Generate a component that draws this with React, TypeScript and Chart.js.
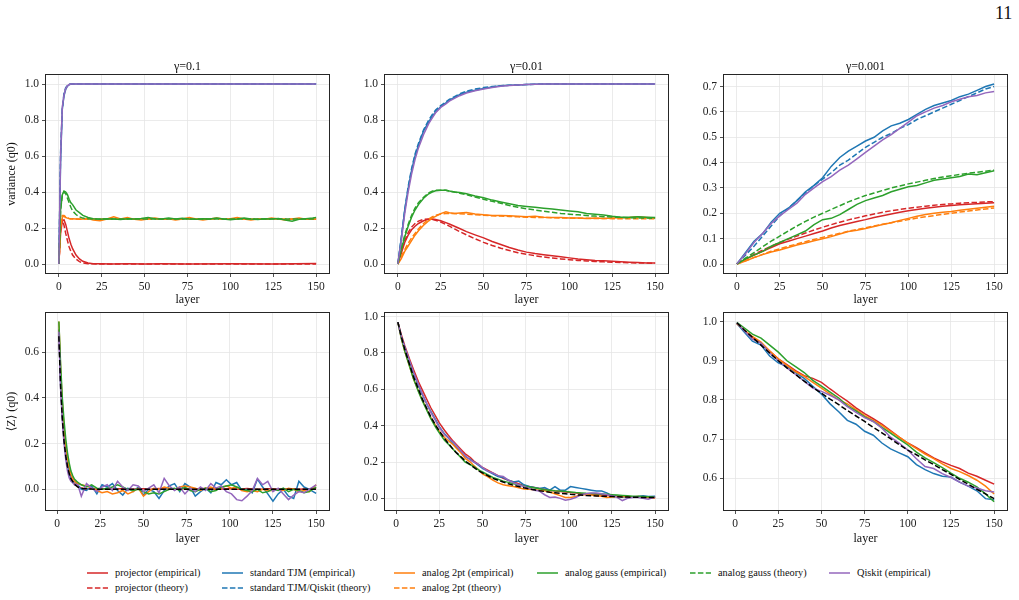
import React, { useEffect, useRef } from "react";
import { Chart, registerables } from "chart.js";
Chart.register(...registerables);

// ---------- colours ----------
const RED = "#d62728";
const BLUE = "#1f77b4";
const ORANGE = "#ff7f0e";
const GREEN = "#2ca02c";
const PURPLE = "#9467bd";
const BLACK = "#000000";
const DASH = [5.5, 2.4];
const FONT = '"Liberation Serif", "Times New Roman", "DejaVu Serif", serif';
Chart.defaults.font.family = FONT;

// ---------- tick labels ----------
const xTicks = [0, 25, 50, 75, 100, 125, 150];
const yTicksVar = [0, 0.2, 0.4, 0.6, 0.8, 1.0];
const yTicksVar001 = [0, 0.1, 0.2, 0.3, 0.4, 0.5, 0.6, 0.7];
const yTicksZ01 = [0, 0.2, 0.4, 0.6];
const yTicksZ001 = [0.6, 0.7, 0.8, 0.9, 1.0];

// ---------- panel titles ----------
const gammaTitles = ["γ=0.1", "γ=0.01", "γ=0.001"];

// ---------- panel 1: variance, γ=0.1 ----------
const X1a = [0, 1, 2, 3, 4, 5, 6, 7, 8, 10, 12, 14, 17, 20, 25, 30, 40, 50, 60, 75, 100, 125, 150];
const X1b = [0, 1, 2, 3, 4, 5, 6, 7, 8, 10, 12, 14, 17, 20, 24, 28, 32, 36, 40, 44, 48, 52, 56, 60, 64, 68, 72, 76, 80, 84, 88, 92, 96, 100, 104, 108, 112, 116, 120, 124, 128, 132, 136, 140, 144, 148, 150];
const p1ProjEmp = [0, 0.17, 0.24, 0.245, 0.22, 0.18, 0.14, 0.11, 0.085, 0.05, 0.028, 0.015, 0.006, 0.002, 0.001, 0, 0.001, 0, 0.001, 0, 0.001, 0, 0.003];
const p1ProjTheory = [0, 0.2, 0.245, 0.215, 0.17, 0.13, 0.095, 0.07, 0.05, 0.027, 0.013, 0.006, 0.002, 0.001, 0, 0, 0, 0, 0, 0, 0, 0, 0];
const p1TjmEmp = [0, 0.57, 0.86, 0.935, 0.97, 0.988, 0.996, 1, 1, 1, 1, 1, 1, 1, 1, 1, 1, 1, 1, 1, 1, 1, 1];
const p1TjmTheory = [0, 0.62, 0.86, 0.95, 0.98, 0.993, 0.998, 1, 1, 1, 1, 1, 1, 1, 1, 1, 1, 1, 1, 1, 1, 1, 1];
const p1TwoPtEmp = [0, 0.2, 0.26, 0.265, 0.258, 0.255, 0.252, 0.25, 0.252, 0.25, 0.248, 0.25, 0.252, 0.245, 0.24, 0.25, 0.262, 0.25, 0.258, 0.248, 0.245, 0.25, 0.255, 0.248, 0.252, 0.245, 0.25, 0.258, 0.25, 0.245, 0.25, 0.255, 0.248, 0.252, 0.258, 0.25, 0.245, 0.25, 0.248, 0.255, 0.25, 0.245, 0.25, 0.255, 0.248, 0.25, 0.248];
const p1TwoPtTheory = [0, 0.22, 0.27, 0.27, 0.262, 0.256, 0.253, 0.251, 0.25, 0.25, 0.25, 0.25, 0.25, 0.25, 0.25, 0.25, 0.25, 0.25, 0.25, 0.25, 0.25, 0.25, 0.25];
const p1GaussEmp = [0, 0.3, 0.385, 0.405, 0.4, 0.385, 0.36, 0.34, 0.33, 0.3, 0.285, 0.27, 0.258, 0.252, 0.248, 0.252, 0.25, 0.247, 0.252, 0.25, 0.253, 0.258, 0.252, 0.25, 0.255, 0.25, 0.254, 0.25, 0.248, 0.252, 0.25, 0.256, 0.25, 0.246, 0.25, 0.255, 0.25, 0.247, 0.252, 0.25, 0.253, 0.245, 0.238, 0.248, 0.252, 0.255, 0.258];
const p1GaussTheory = [0, 0.3, 0.38, 0.4, 0.39, 0.365, 0.34, 0.315, 0.295, 0.275, 0.262, 0.255, 0.251, 0.25, 0.25, 0.25, 0.25, 0.25, 0.25, 0.25, 0.25, 0.25, 0.25];
const p1QiskitEmp = [0, 0.6, 0.87, 0.94, 0.975, 0.99, 0.997, 1, 1, 1, 1, 1, 1, 1, 1, 1, 1, 1, 1, 1, 1, 1, 1];

// ---------- panel 2: variance, γ=0.01 ----------
const X2 = [0, 2, 4, 6, 8, 10, 12, 15, 18, 20, 22, 25, 28, 30, 33, 36, 40, 45, 50, 55, 60, 65, 70, 75, 80, 85, 90, 95, 100, 105, 110, 115, 120, 125, 130, 135, 140, 145, 150];
const p2ProjEmp = [0, 0.06, 0.12, 0.16, 0.19, 0.21, 0.225, 0.24, 0.248, 0.25, 0.247, 0.24, 0.23, 0.222, 0.21, 0.197, 0.18, 0.162, 0.145, 0.125, 0.108, 0.092, 0.078, 0.066, 0.058, 0.052, 0.046, 0.04, 0.034, 0.028, 0.024, 0.02, 0.018, 0.015, 0.012, 0.01, 0.008, 0.006, 0.005];
const p2ProjTheory = [0, 0.07, 0.13, 0.175, 0.205, 0.225, 0.238, 0.248, 0.25, 0.248, 0.243, 0.233, 0.22, 0.21, 0.195, 0.18, 0.162, 0.14, 0.12, 0.103, 0.088, 0.075, 0.063, 0.054, 0.046, 0.039, 0.033, 0.028, 0.024, 0.02, 0.017, 0.014, 0.012, 0.01, 0.008, 0.007, 0.006, 0.005, 0.004];
const p2TjmEmp = [0, 0.14, 0.3, 0.42, 0.52, 0.6, 0.66, 0.74, 0.79, 0.82, 0.845, 0.875, 0.895, 0.91, 0.925, 0.94, 0.955, 0.965, 0.975, 0.983, 0.99, 0.993, 0.995, 0.997, 0.998, 1, 1, 1, 1, 1, 1, 1, 1, 1, 1, 1, 1, 1, 1];
const p2TjmTheory = [0, 0.15, 0.3, 0.43, 0.53, 0.61, 0.67, 0.745, 0.8, 0.83, 0.855, 0.88, 0.9, 0.915, 0.93, 0.945, 0.96, 0.972, 0.98, 0.986, 0.99, 0.993, 0.995, 0.997, 0.998, 1, 1, 1, 1, 1, 1, 1, 1, 1, 1, 1, 1, 1, 1];
const p2TwoPtEmp = [0, 0.03, 0.07, 0.1, 0.13, 0.16, 0.185, 0.215, 0.24, 0.255, 0.265, 0.28, 0.29, 0.285, 0.28, 0.283, 0.286, 0.278, 0.273, 0.27, 0.27, 0.268, 0.265, 0.262, 0.265, 0.26, 0.258, 0.258, 0.255, 0.256, 0.253, 0.255, 0.253, 0.255, 0.257, 0.258, 0.262, 0.258, 0.255];
const p2TwoPtTheory = [0, 0.04, 0.08, 0.115, 0.145, 0.17, 0.195, 0.225, 0.25, 0.262, 0.27, 0.278, 0.28, 0.28, 0.28, 0.279, 0.277, 0.274, 0.271, 0.268, 0.266, 0.264, 0.262, 0.26, 0.259, 0.258, 0.257, 0.256, 0.255, 0.254, 0.254, 0.253, 0.253, 0.252, 0.252, 0.252, 0.251, 0.251, 0.251];
const p2GaussEmp = [0, 0.08, 0.15, 0.21, 0.26, 0.3, 0.33, 0.365, 0.39, 0.4, 0.407, 0.41, 0.41, 0.405, 0.4, 0.397, 0.39, 0.378, 0.368, 0.355, 0.345, 0.335, 0.325, 0.32, 0.315, 0.31, 0.305, 0.3, 0.295, 0.29, 0.28, 0.277, 0.272, 0.265, 0.26, 0.26, 0.262, 0.26, 0.258];
const p2GaussTheory = [0, 0.09, 0.16, 0.22, 0.27, 0.31, 0.34, 0.37, 0.395, 0.405, 0.41, 0.41, 0.41, 0.405, 0.4, 0.393, 0.385, 0.372, 0.36, 0.348, 0.337, 0.325, 0.315, 0.307, 0.3, 0.293, 0.287, 0.281, 0.277, 0.273, 0.269, 0.266, 0.263, 0.261, 0.259, 0.257, 0.256, 0.255, 0.254];
const p2QiskitEmp = [0, 0.13, 0.28, 0.4, 0.5, 0.58, 0.645, 0.72, 0.78, 0.81, 0.84, 0.87, 0.89, 0.905, 0.92, 0.935, 0.95, 0.962, 0.972, 0.98, 0.988, 0.992, 0.995, 0.997, 0.998, 1, 1, 1, 1, 1, 1, 1, 1, 1, 1, 1, 1, 1, 1];

// ---------- panel 3: variance, γ=0.001 ----------
const X3 = [0, 5, 10, 15, 20, 25, 30, 35, 40, 45, 50, 55, 60, 65, 70, 75, 80, 85, 90, 95, 100, 105, 110, 115, 120, 125, 130, 135, 140, 145, 150];
const p3ProjEmp = [0, 0.018, 0.035, 0.05, 0.065, 0.08, 0.09, 0.1, 0.11, 0.12, 0.13, 0.142, 0.152, 0.16, 0.168, 0.175, 0.183, 0.19, 0.197, 0.204, 0.21, 0.215, 0.22, 0.224, 0.228, 0.231, 0.234, 0.236, 0.238, 0.24, 0.242];
const p3ProjTheory = [0, 0.02, 0.038, 0.055, 0.07, 0.085, 0.098, 0.11, 0.122, 0.134, 0.145, 0.155, 0.165, 0.174, 0.182, 0.19, 0.197, 0.204, 0.21, 0.215, 0.22, 0.224, 0.228, 0.232, 0.235, 0.237, 0.24, 0.242, 0.243, 0.245, 0.246];
const p3TjmEmp = [0, 0.045, 0.09, 0.12, 0.165, 0.2, 0.22, 0.25, 0.285, 0.31, 0.34, 0.385, 0.42, 0.445, 0.465, 0.485, 0.5, 0.525, 0.545, 0.555, 0.57, 0.59, 0.61, 0.625, 0.635, 0.645, 0.66, 0.67, 0.685, 0.7, 0.71];
const p3TjmTheory = [0, 0.035, 0.07, 0.11, 0.15, 0.19, 0.22, 0.25, 0.28, 0.31, 0.335, 0.36, 0.39, 0.41, 0.435, 0.46, 0.48, 0.5, 0.515, 0.535, 0.55, 0.57, 0.585, 0.6, 0.615, 0.63, 0.645, 0.66, 0.675, 0.69, 0.7];
const p3TwoPtEmp = [0, 0.012, 0.025, 0.037, 0.047, 0.055, 0.065, 0.075, 0.083, 0.092, 0.1, 0.108, 0.118, 0.128, 0.133, 0.14, 0.148, 0.156, 0.163, 0.172, 0.18, 0.188, 0.195, 0.2, 0.204, 0.207, 0.212, 0.216, 0.22, 0.224, 0.228];
const p3TwoPtTheory = [0, 0.013, 0.026, 0.038, 0.05, 0.06, 0.07, 0.079, 0.088, 0.097, 0.105, 0.113, 0.121, 0.129, 0.136, 0.143, 0.15, 0.157, 0.163, 0.169, 0.175, 0.181, 0.186, 0.191, 0.196, 0.2, 0.205, 0.209, 0.213, 0.217, 0.221];
const p3GaussEmp = [0, 0.02, 0.035, 0.05, 0.07, 0.085, 0.1, 0.115, 0.13, 0.155, 0.175, 0.18, 0.195, 0.215, 0.235, 0.25, 0.26, 0.27, 0.285, 0.295, 0.305, 0.31, 0.32, 0.33, 0.335, 0.34, 0.345, 0.355, 0.352, 0.36, 0.368];
const p3GaussTheory = [0, 0.023, 0.045, 0.068, 0.09, 0.11, 0.13, 0.15, 0.168, 0.185, 0.2, 0.215, 0.23, 0.245, 0.258, 0.27, 0.28, 0.29, 0.3, 0.308, 0.316, 0.323, 0.33, 0.337, 0.343, 0.348, 0.353, 0.358, 0.362, 0.366, 0.37];
const p3QiskitEmp = [0, 0.04, 0.085, 0.12, 0.16, 0.19, 0.215, 0.24, 0.275, 0.3, 0.325, 0.345, 0.37, 0.39, 0.415, 0.44, 0.465, 0.49, 0.51, 0.535, 0.56, 0.585, 0.6, 0.615, 0.625, 0.64, 0.65, 0.66, 0.665, 0.675, 0.68];

// ---------- panel 4: <Z>, γ=0.1 ----------
const X4 = [1, 2, 3, 4, 5, 6, 7, 8, 9, 10, 12, 14, 17, 20, 23, 26, 29, 32, 35, 38, 41, 44, 47, 50, 53, 56, 59, 62, 65, 68, 71, 74, 77, 80, 83, 86, 89, 92, 95, 98, 101, 104, 107, 110, 113, 116, 119, 122, 125, 128, 131, 134, 137, 140, 143, 146, 150];
const X4t = [1, 2, 3, 4, 5, 6, 7, 8, 10, 12, 15, 20, 30, 150];
const p4ProjEmp = [0.7, 0.48, 0.33, 0.23, 0.16, 0.11, 0.075, 0.05, 0.035, 0.025, 0.012, 0.006, 0.003, 0.002, 0, 0.003, 0.001, 0, 0.002, 0.004, 0.001, 0, 0.002, 0.003, 0, 0.001, 0.004, 0.002, 0, 0.001, 0.003, 0.002, 0, 0.001, 0.003, 0.004, 0.002, 0, 0.001, 0.003, 0.002, 0, 0.001, 0.004, 0.002, 0, 0.001, 0.003, 0.002, 0, 0.001, 0.002, 0.003, 0, 0.001, 0.002, 0.004];
const p4TjmEmp = [0.7, 0.47, 0.33, 0.23, 0.16, 0.11, 0.07, 0.04, 0.03, 0.035, 0.02, 0, -0.005, 0.015, -0.02, 0.02, 0.01, 0.025, -0.005, -0.025, 0.005, -0.01, 0.01, -0.025, 0, -0.01, -0.04, -0.005, 0.015, 0.025, -0.01, 0.025, 0.01, -0.03, -0.01, 0.005, -0.015, 0.03, 0.02, 0.042, 0.02, 0.03, -0.005, 0, -0.015, 0.045, 0.01, -0.02, -0.052, -0.02, 0, -0.03, -0.04, 0.035, 0.01, 0, -0.018];
const p4TwoPtEmp = [0.735, 0.53, 0.38, 0.27, 0.19, 0.135, 0.095, 0.065, 0.05, 0.035, 0.025, 0.02, 0.015, 0.005, -0.005, -0.015, -0.01, -0.02, -0.015, -0.005, -0.02, -0.01, 0.005, -0.03, -0.01, 0.005, 0, 0.01, 0.005, 0, 0.01, 0.015, 0.01, 0.005, -0.005, 0.005, 0.01, 0, 0.005, 0.015, 0.005, 0.01, -0.005, -0.01, -0.005, -0.01, 0, -0.005, -0.005, 0, -0.005, 0.005, 0, -0.01, -0.005, -0.01, 0.02];
const p4GaussEmp = [0.735, 0.55, 0.4, 0.3, 0.22, 0.16, 0.115, 0.08, 0.06, 0.045, 0.03, 0.02, 0.01, 0.02, 0.005, 0, 0.005, 0.01, 0.02, 0.01, 0, -0.005, 0, -0.01, -0.02, -0.015, -0.02, -0.01, 0, 0.005, -0.005, 0.01, -0.005, -0.01, 0, 0.005, -0.01, -0.005, 0.01, 0.015, 0.02, 0.01, 0, -0.005, -0.01, 0, -0.015, -0.01, 0, -0.005, 0.005, -0.01, 0, -0.005, -0.015, -0.01, 0.01];
const p4QiskitEmp = [0.69, 0.44, 0.3, 0.2, 0.13, 0.08, 0.05, 0.035, 0.03, 0.02, 0.02, -0.03, 0.025, 0.005, -0.01, 0.01, 0.02, -0.005, 0.035, 0.01, -0.005, 0.02, 0.015, -0.01, 0.005, 0.02, -0.015, 0.048, 0.015, -0.005, 0.01, -0.02, 0.005, -0.01, 0.01, -0.005, 0.025, 0.005, 0.015, -0.01, -0.02, -0.045, -0.05, -0.03, -0.005, 0.048, 0.02, 0.035, -0.01, 0.005, -0.02, -0.045, -0.025, -0.01, -0.015, 0, 0.02];
const p4Theory = [0.67, 0.45, 0.31, 0.21, 0.145, 0.1, 0.068, 0.047, 0.022, 0.01, 0.003, 0.001, 0, 0];

// ---------- panel 5: <Z>, γ=0.01 ----------
const X5 = [1, 3, 5, 8, 10, 13, 15, 18, 20, 23, 25, 28, 30, 33, 35, 38, 40, 43, 45, 48, 50, 53, 56, 59, 62, 65, 68, 71, 74, 77, 80, 83, 86, 89, 92, 95, 98, 101, 104, 107, 110, 113, 116, 119, 122, 125, 128, 131, 134, 137, 140, 143, 146, 150];
const p5ProjEmp = [0.97, 0.9, 0.84, 0.76, 0.71, 0.64, 0.6, 0.54, 0.5, 0.45, 0.415, 0.375, 0.35, 0.315, 0.295, 0.265, 0.245, 0.225, 0.205, 0.185, 0.17, 0.155, 0.14, 0.125, 0.11, 0.1, 0.09, 0.08, 0.07, 0.065, 0.06, 0.055, 0.05, 0.045, 0.04, 0.038, 0.035, 0.032, 0.03, 0.027, 0.025, 0.022, 0.02, 0.018, 0.016, 0.014, 0.012, 0.01, 0.009, 0.008, 0.007, 0.006, 0.005, 0.004];
const p5TjmEmp = [0.97, 0.89, 0.83, 0.745, 0.69, 0.62, 0.575, 0.515, 0.48, 0.43, 0.395, 0.355, 0.335, 0.3, 0.28, 0.25, 0.23, 0.215, 0.2, 0.18, 0.165, 0.15, 0.135, 0.12, 0.115, 0.1, 0.09, 0.095, 0.075, 0.065, 0.06, 0.055, 0.06, 0.045, 0.065, 0.045, 0.045, 0.065, 0.06, 0.055, 0.05, 0.045, 0.04, 0.04, 0.03, 0.015, 0.012, 0.008, 0.01, 0.008, 0.01, 0.015, 0.01, 0.012];
const p5TwoPtEmp = [0.97, 0.88, 0.81, 0.72, 0.66, 0.59, 0.545, 0.485, 0.445, 0.4, 0.37, 0.335, 0.32, 0.295, 0.275, 0.245, 0.22, 0.2, 0.18, 0.155, 0.135, 0.12, 0.1, 0.085, 0.075, 0.07, 0.065, 0.058, 0.052, 0.05, 0.048, 0.045, 0.042, 0.035, 0.025, 0.015, 0.005, 0.005, 0.01, 0.02, 0.02, 0.018, 0.015, 0.012, 0.005, 0.008, 0.01, 0.012, 0.01, 0.008, 0.01, 0.008, 0.005, 0.003];
const p5GaussEmp = [0.97, 0.88, 0.81, 0.72, 0.66, 0.585, 0.54, 0.48, 0.44, 0.39, 0.36, 0.32, 0.3, 0.27, 0.25, 0.22, 0.2, 0.185, 0.175, 0.155, 0.145, 0.13, 0.115, 0.105, 0.095, 0.088, 0.08, 0.075, 0.068, 0.063, 0.058, 0.053, 0.048, 0.045, 0.042, 0.04, 0.038, 0.035, 0.032, 0.03, 0.028, 0.027, 0.025, 0.024, 0.022, 0.02, 0.018, 0.016, 0.014, 0.012, 0.011, 0.01, 0.009, 0.008];
const p5QiskitEmp = [0.97, 0.89, 0.83, 0.75, 0.695, 0.625, 0.58, 0.515, 0.475, 0.425, 0.39, 0.35, 0.335, 0.31, 0.29, 0.255, 0.235, 0.21, 0.2, 0.185, 0.17, 0.15, 0.14, 0.125, 0.12, 0.1, 0.085, 0.075, 0.065, 0.055, 0.045, 0.04, 0.02, 0.005, 0.008, 0, -0.01, -0.005, 0.005, 0.02, 0.025, 0.03, 0.03, 0.025, 0.02, 0.015, 0.005, -0.012, 0, 0.005, 0.005, 0, -0.005, 0.008];
const p5Theory = [0.97, 0.89, 0.82, 0.73, 0.67, 0.6, 0.55, 0.49, 0.45, 0.4, 0.37, 0.33, 0.305, 0.27, 0.25, 0.225, 0.205, 0.185, 0.17, 0.15, 0.14, 0.125, 0.11, 0.1, 0.09, 0.08, 0.072, 0.065, 0.058, 0.052, 0.047, 0.042, 0.038, 0.034, 0.031, 0.028, 0.025, 0.022, 0.02, 0.018, 0.016, 0.015, 0.013, 0.012, 0.011, 0.01, 0.009, 0.008, 0.007, 0.006, 0.006, 0.005, 0.005, 0.004];

// ---------- panel 6: <Z>, γ=0.001 ----------
const X6 = [1, 5, 10, 15, 20, 25, 30, 35, 40, 45, 50, 55, 60, 65, 70, 75, 80, 85, 90, 95, 100, 105, 110, 115, 120, 125, 130, 135, 140, 145, 150];
const p6ProjEmp = [0.995, 0.978, 0.96, 0.945, 0.925, 0.905, 0.89, 0.875, 0.862, 0.855, 0.845, 0.828, 0.812, 0.797, 0.78, 0.765, 0.752, 0.738, 0.722, 0.705, 0.69, 0.678, 0.665, 0.652, 0.642, 0.633, 0.625, 0.613, 0.605, 0.595, 0.585];
const p6TjmEmp = [0.995, 0.975, 0.95, 0.94, 0.912, 0.895, 0.885, 0.87, 0.855, 0.835, 0.815, 0.79, 0.77, 0.748, 0.738, 0.72, 0.71, 0.69, 0.675, 0.665, 0.655, 0.635, 0.622, 0.612, 0.605, 0.603, 0.59, 0.58, 0.568, 0.548, 0.545];
const p6TwoPtEmp = [0.995, 0.98, 0.962, 0.948, 0.925, 0.905, 0.888, 0.872, 0.86, 0.845, 0.83, 0.815, 0.8, 0.79, 0.775, 0.76, 0.748, 0.735, 0.72, 0.705, 0.69, 0.676, 0.662, 0.65, 0.637, 0.625, 0.617, 0.607, 0.595, 0.58, 0.56];
const p6GaussEmp = [0.998, 0.985, 0.968, 0.958, 0.94, 0.922, 0.9, 0.885, 0.87, 0.85, 0.835, 0.82, 0.805, 0.785, 0.772, 0.757, 0.745, 0.73, 0.715, 0.7, 0.685, 0.667, 0.652, 0.64, 0.627, 0.613, 0.6, 0.59, 0.578, 0.56, 0.54];
const p6QiskitEmp = [0.997, 0.978, 0.955, 0.945, 0.92, 0.9, 0.882, 0.865, 0.848, 0.83, 0.822, 0.812, 0.8, 0.783, 0.768, 0.755, 0.745, 0.728, 0.705, 0.69, 0.672, 0.65, 0.63, 0.625, 0.612, 0.602, 0.59, 0.58, 0.575, 0.568, 0.565];
const p6Theory = [0.997, 0.98, 0.96, 0.94, 0.92, 0.9, 0.882, 0.865, 0.848, 0.832, 0.817, 0.802, 0.788, 0.773, 0.759, 0.745, 0.73, 0.716, 0.701, 0.686, 0.672, 0.66, 0.647, 0.635, 0.622, 0.61, 0.597, 0.585, 0.572, 0.56, 0.548];

// ---------- legend ----------
const legendLabels = [
  "projector (empirical)",
  "projector (theory)",
  "standard TJM (empirical)",
  "standard TJM/Qiskit (theory)",
  "analog 2pt (empirical)",
  "analog 2pt (theory)",
  "analog gauss (empirical)",
  "analog gauss (theory)",
  "Qiskit (empirical)",
];
const legendColors = [RED, RED, BLUE, BLUE, ORANGE, ORANGE, GREEN, GREEN, PURPLE];
const legendDashed = [false, true, false, true, false, true, false, true, false];
// layout slots (column x, row index) for the 9 entries
const legendColX = [87, 222, 394, 537, 690, 829];
const legendSlots = [[0, 0], [0, 1], [1, 0], [1, 1], [2, 0], [2, 1], [3, 0], [4, 0], [5, 0]];
const legendRowY = [573, 588];

type Series = { x: number[]; y: number[]; color: string; dashed?: boolean };
type Spec = {
  plotLeft: number; plotTop: number; plotW: number; plotH: number;
  title?: string; yTitle?: string;
  xMin: number; xMax: number; yMin: number; yMax: number;
  yTicks: number[]; padB: number;
  series: Series[];
};

const s = (x: number[], y: number[], color: string, dashed = false): Series => ({ x, y, color, dashed });

const specs: Spec[] = [
  {
    plotLeft: 46, plotTop: 75, plotW: 283, plotH: 198, title: gammaTitles[0], yTitle: "variance (q0)",
    xMin: -7.5, xMax: 157.5, yMin: -0.05, yMax: 1.05, yTicks: yTicksVar, padB: 34,
    series: [
      s(X1a, p1ProjEmp, RED), s(X1a, p1ProjTheory, RED, true),
      s(X1a, p1TjmEmp, BLUE), s(X1a, p1TjmTheory, BLUE, true),
      s(X1b, p1TwoPtEmp, ORANGE), s(X1a, p1TwoPtTheory, ORANGE, true),
      s(X1b, p1GaussEmp, GREEN), s(X1a, p1GaussTheory, GREEN, true),
      s(X1a, p1QiskitEmp, PURPLE),
    ],
  },
  {
    plotLeft: 385, plotTop: 75, plotW: 283, plotH: 198, title: gammaTitles[1],
    xMin: -7.5, xMax: 157.5, yMin: -0.05, yMax: 1.05, yTicks: yTicksVar, padB: 34,
    series: [
      s(X2, p2ProjEmp, RED), s(X2, p2ProjTheory, RED, true),
      s(X2, p2TjmEmp, BLUE), s(X2, p2TjmTheory, BLUE, true),
      s(X2, p2TwoPtEmp, ORANGE), s(X2, p2TwoPtTheory, ORANGE, true),
      s(X2, p2GaussEmp, GREEN), s(X2, p2GaussTheory, GREEN, true),
      s(X2, p2QiskitEmp, PURPLE),
    ],
  },
  {
    plotLeft: 724, plotTop: 75, plotW: 283, plotH: 198, title: gammaTitles[2],
    xMin: -7.5, xMax: 157.5, yMin: -0.0355, yMax: 0.7455, yTicks: yTicksVar001, padB: 34,
    series: [
      s(X3, p3ProjEmp, RED), s(X3, p3ProjTheory, RED, true),
      s(X3, p3TjmEmp, BLUE), s(X3, p3TjmTheory, BLUE, true),
      s(X3, p3TwoPtEmp, ORANGE), s(X3, p3TwoPtTheory, ORANGE, true),
      s(X3, p3GaussEmp, GREEN), s(X3, p3GaussTheory, GREEN, true),
      s(X3, p3QiskitEmp, PURPLE),
    ],
  },
  {
    plotLeft: 46, plotTop: 313, plotW: 283, plotH: 197, yTitle: "⟨Z⟩ (q0)",
    xMin: -6.45, xMax: 157.45, yMin: -0.0905, yMax: 0.772, yTicks: yTicksZ01, padB: 36,
    series: [
      s(X4, p4ProjEmp, RED), s(X4, p4TjmEmp, BLUE), s(X4, p4TwoPtEmp, ORANGE),
      s(X4, p4GaussEmp, GREEN), s(X4, p4QiskitEmp, PURPLE), s(X4t, p4Theory, BLACK, true),
    ],
  },
  {
    plotLeft: 385, plotTop: 313, plotW: 283, plotH: 197,
    xMin: -6.45, xMax: 157.45, yMin: -0.064, yMax: 1.02, yTicks: yTicksVar, padB: 36,
    series: [
      s(X5, p5ProjEmp, RED), s(X5, p5TjmEmp, BLUE), s(X5, p5TwoPtEmp, ORANGE),
      s(X5, p5GaussEmp, GREEN), s(X5, p5QiskitEmp, PURPLE), s(X5, p5Theory, BLACK, true),
    ],
  },
  {
    plotLeft: 724, plotTop: 313, plotW: 283, plotH: 197,
    xMin: -6.45, xMax: 157.45, yMin: 0.519, yMax: 1.022, yTicks: yTicksZ001, padB: 36,
    series: [
      s(X6, p6ProjEmp, RED), s(X6, p6TjmEmp, BLUE), s(X6, p6TwoPtEmp, ORANGE),
      s(X6, p6GaussEmp, GREEN), s(X6, p6QiskitEmp, PURPLE), s(X6, p6Theory, BLACK, true),
    ],
  },
];

const framePlugin = {
  id: "frame",
  afterDraw(chart: any) {
    const { ctx, chartArea: a } = chart;
    ctx.save();
    ctx.strokeStyle = "#262626";
    ctx.lineWidth = 1;
    ctx.strokeRect(a.left - 0.5, a.top - 0.5, a.right - a.left + 1, a.bottom - a.top + 1);
    ctx.restore();
  },
};

const PAD_L = 46;
const PAD_R = 8;
const TITLE_H = 18;
const TOP_PAD = 10;

function Panel({ spec }: { spec: Spec }) {
  const ref = useRef<HTMLCanvasElement>(null);
  const padT = spec.title ? TITLE_H : TOP_PAD;
  const W = PAD_L + spec.plotW + PAD_R;
  const H = padT + spec.plotH + spec.padB;
  useEffect(() => {
    const tickFont = { family: FONT, size: 11.5 };
    const labelFont = { family: FONT, size: 12, lineHeight: 1.2 };
    const gridCfg = {
      color: "#e6e6e6",
      lineWidth: 0.8,
      drawTicks: true,
      tickLength: 4,
      tickColor: "#262626",
      tickWidth: 0.8,
    };
    const chart = new Chart(ref.current as HTMLCanvasElement, {
      type: "line",
      data: {
        datasets: spec.series
          .slice()
          .reverse()
          .map((sr) => ({
            data: sr.x.map((x, i) => ({ x, y: sr.y[i] })),
            borderColor: sr.color,
            backgroundColor: sr.color,
            borderWidth: 1.5,
            borderDash: sr.dashed ? DASH : [],
            pointRadius: 0,
            tension: 0,
            fill: false,
          })),
      },
      options: {
        animation: false,
        responsive: false,
        maintainAspectRatio: false,
        events: [],
        layout: { padding: { left: 0, right: PAD_R, top: spec.title ? 0 : TOP_PAD, bottom: 0 } },
        plugins: {
          legend: { display: false },
          tooltip: { enabled: false },
          title: {
            display: !!spec.title,
            text: spec.title || "",
            fullSize: false,
            color: "#111",
            font: { family: FONT, size: 12, weight: "normal", lineHeight: 1.2 },
            padding: { top: 3, bottom: 0.6 },
          },
        },
        scales: {
          x: {
            type: "linear",
            min: spec.xMin,
            max: spec.xMax,
            afterBuildTicks: (sc: any) => {
              sc.ticks = xTicks.map((v) => ({ value: v }));
            },
            afterFit: (sc: any) => {
              sc.height = spec.padB;
            },
            ticks: {
              autoSkip: false,
              maxRotation: 0,
              padding: 3,
              color: "#222",
              font: tickFont,
              callback: (v: any) => String(v),
            },
            grid: gridCfg,
            border: { display: false },
            title: { display: true, text: "layer", color: "#111", font: labelFont, padding: 0 },
          },
          y: {
            type: "linear",
            min: spec.yMin,
            max: spec.yMax,
            afterBuildTicks: (sc: any) => {
              sc.ticks = spec.yTicks.map((v) => ({ value: v }));
            },
            afterFit: (sc: any) => {
              sc.width = PAD_L;
            },
            ticks: {
              autoSkip: false,
              padding: 3,
              color: "#222",
              font: tickFont,
              callback: (v: any) => Number(v).toFixed(1),
            },
            grid: gridCfg,
            border: { display: false },
            title: {
              display: !!spec.yTitle,
              text: spec.yTitle || "",
              color: "#111",
              font: labelFont,
              padding: { top: 5, bottom: 0 },
            },
          },
        },
      },
      plugins: [framePlugin],
    } as any);
    return () => chart.destroy();
  }, []);
  return (
    <canvas
      ref={ref}
      width={W}
      height={H}
      style={{ position: "absolute", left: spec.plotLeft - PAD_L, top: spec.plotTop - padT, width: W, height: H }}
    />
  );
}

function Legend() {
  return (
    <>
      {legendLabels.map((label, i) => {
        const [col, row] = legendSlots[i];
        return (
          <div
            key={label}
            style={{
              position: "absolute",
              left: legendColX[col],
              top: legendRowY[row] - 7,
              height: 14,
              display: "flex",
              alignItems: "center",
              whiteSpace: "nowrap",
            }}
          >
            <svg width={21} height={4} style={{ display: "block" }}>
              <line
                x1={0}
                y1={2}
                x2={21}
                y2={2}
                stroke={legendColors[i]}
                strokeWidth={1.5}
                strokeDasharray={legendDashed[i] ? "5.5 2.4" : undefined}
              />
            </svg>
            <span style={{ marginLeft: 7, fontFamily: FONT, fontSize: 10.3, color: "#111", lineHeight: "14px" }}>{label}</span>
          </div>
        );
      })}
    </>
  );
}

export default function App() {
  return (
    <div style={{ position: "absolute", left: 0, top: 0, width: 1019, height: 600, background: "#fff", overflow: "hidden" }}>
      <div style={{ position: "absolute", left: 995, top: 4, fontFamily: FONT, fontSize: 18, lineHeight: "18px", color: "#111" }}>11</div>
      {specs.map((sp, i) => (
        <Panel key={i} spec={sp} />
      ))}
      <Legend />
    </div>
  );
}
